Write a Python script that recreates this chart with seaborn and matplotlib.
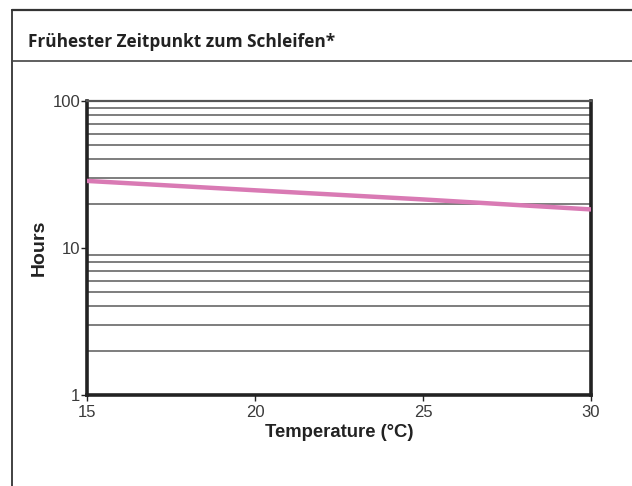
import matplotlib
matplotlib.use("Agg")
import matplotlib.pyplot as plt
from matplotlib.lines import Line2D
from matplotlib.ticker import FixedLocator, NullFormatter, NullLocator
import seaborn as sns
import pandas as pd

# data
temperature = [15, 20, 25, 30]
hours = [28.6, 24.7, 21.4, 18.3]
x_ticks = [15, 20, 25, 30]
y_ticks = [1, 10, 100]
y_tick_labels = ["1", "10", "100"]
grid_levels = [2, 3, 4, 5, 6, 7, 8, 9, 20, 30, 40, 50, 60, 70, 80, 90]

title = "Frühester Zeitpunkt zum Schleifen*"
xlabel = "Temperature (°C)"
ylabel = "Hours"

sns.set_theme(style="white")
plt.rcParams['font.family'] = ['Liberation Sans', 'DejaVu Sans']

df = pd.DataFrame({"Temperature": temperature, "Hours": hours})

fig = plt.figure(figsize=(6.32, 4.86), dpi=100)
ax = fig.add_axes([87 / 632, 1 - 395 / 486, (591 - 87) / 632, (395 - 101) / 486])

ax.set_yscale("log")
ax.set_xlim(15, 30)
ax.set_ylim(1, 100)

for g in grid_levels:
    ax.axhline(g, color="#5a5a5a", lw=1.1, zorder=1)

sns.lineplot(data=df, x="Temperature", y="Hours", ax=ax, color="#d97ab4",
             lw=3.2, zorder=3)

ax.xaxis.set_major_locator(FixedLocator(x_ticks))
ax.set_xticklabels([str(t) for t in x_ticks])
ax.yaxis.set_major_locator(FixedLocator(y_ticks))
ax.yaxis.set_minor_locator(NullLocator())
ax.yaxis.set_minor_formatter(NullFormatter())
ax.set_yticklabels(y_tick_labels)

ax.tick_params(axis="both", which="major", direction="out", length=4, width=1,
               color="#222222", labelsize=12, labelcolor="#3a3a3a",
               bottom=True, left=True)
ax.tick_params(axis="x", pad=3)
ax.tick_params(axis="y", pad=1)

ax.set_xlabel(xlabel, fontsize=13.3, fontweight="bold", color="#222222", labelpad=0)
ax.xaxis.set_label_coords(0.5, -0.098)
ax.set_ylabel(ylabel, fontsize=14, fontweight="bold", color="#222222")
ax.yaxis.label.set_va("center")
ax.yaxis.set_label_coords((39 - 87) / 504, 0.5)

for side in ["left", "bottom", "right"]:
    ax.spines[side].set_visible(True)
    ax.spines[side].set_color("#222222")
    ax.spines[side].set_linewidth(2.6)
ax.spines["top"].set_visible(True)
ax.spines["top"].set_color("#555555")
ax.spines["top"].set_linewidth(1.6)

# outer frame and header
fx = 12 / 632
fig.add_artist(Line2D([fx, fx], [0, 1 - 10 / 486], transform=fig.transFigure,
                      color="#333333", lw=1.3))
fig.add_artist(Line2D([fx, 1], [1 - 10 / 486, 1 - 10 / 486], transform=fig.transFigure,
                      color="#333333", lw=1.6))
fig.add_artist(Line2D([fx, 1], [1 - 61 / 486, 1 - 61 / 486], transform=fig.transFigure,
                      color="#444444", lw=1.2))
fig.text(28 / 632, 1 - 42 / 486, title, fontsize=12.4, fontweight="bold",
         color="#222222", va="center", ha="left", family=["Open Sans", "DejaVu Sans"])

fig.savefig("out.png", dpi=100, facecolor="white")
